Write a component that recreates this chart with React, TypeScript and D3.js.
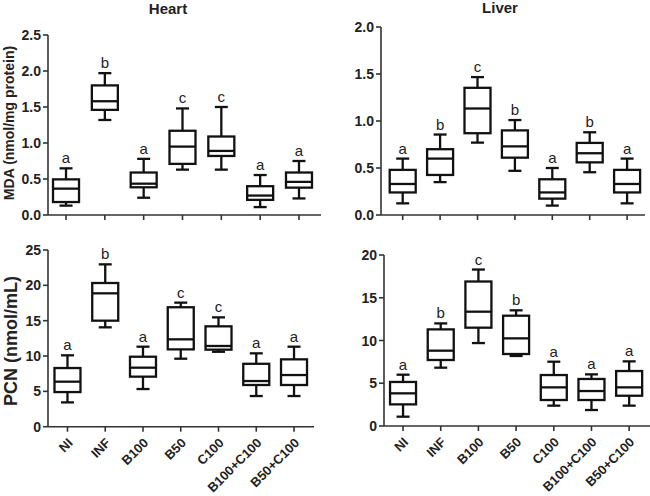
import React from "react";
import * as d3 from "d3";

const categories = ["NI", "INF", "B100", "B50", "C100", "B100+C100", "B50+C100"];

const heartMdaMin = [0.13, 1.32, 0.24, 0.63, 0.63, 0.11, 0.23];
const heartMdaQ1 = [0.18, 1.46, 0.385, 0.71, 0.82, 0.21, 0.38];
const heartMdaMedian = [0.366, 1.58, 0.435, 0.95, 0.89, 0.27, 0.46];
const heartMdaQ3 = [0.495, 1.8, 0.59, 1.17, 1.09, 0.4, 0.59];
const heartMdaMax = [0.648, 1.97, 0.78, 1.48, 1.5, 0.555, 0.75];
const heartMdaLetters = ["a", "b", "a", "c", "c", "a", "a"];

const liverMdaMin = [0.124, 0.35, 0.77, 0.47, 0.1, 0.455, 0.124];
const liverMdaQ1 = [0.24, 0.426, 0.87, 0.61, 0.174, 0.56, 0.24];
const liverMdaMedian = [0.33, 0.6, 1.133, 0.73, 0.24, 0.657, 0.33];
const liverMdaQ3 = [0.48, 0.7, 1.353, 0.9, 0.38, 0.767, 0.48];
const liverMdaMax = [0.6, 0.856, 1.467, 1.01, 0.5, 0.88, 0.6];
const liverMdaLetters = ["a", "b", "c", "b", "a", "b", "a"];

const heartPcnMin = [3.44, 14.06, 5.33, 9.62, 10.6, 4.34, 4.34];
const heartPcnQ1 = [4.9, 15.0, 7.08, 10.94, 10.9, 5.9, 5.9];
const heartPcnMedian = [6.37, 18.87, 8.35, 12.36, 11.42, 6.46, 7.31];
const heartPcnQ3 = [8.3, 20.33, 9.9, 16.9, 14.2, 8.9, 9.53];
const heartPcnMax = [10.1, 22.97, 11.32, 17.55, 15.47, 10.38, 11.32];
const heartPcnLetters = ["a", "b", "a", "c", "c", "a", "a"];

const liverPcnMin = [1.09, 6.82, 9.7, 8.19, 2.38, 1.87, 2.38];
const liverPcnQ1 = [2.53, 7.72, 11.5, 8.42, 3.04, 3.04, 3.54];
const liverPcnMedian = [3.82, 8.81, 13.37, 10.25, 4.52, 4.09, 4.52];
const liverPcnQ3 = [5.15, 11.3, 16.9, 12.9, 5.96, 5.5, 6.43];
const liverPcnMax = [6.0, 12.0, 18.3, 13.53, 7.52, 6.04, 7.56];
const liverPcnLetters = ["a", "b", "c", "b", "a", "a", "a"];

const mdaTicks = [0, 0.5, 1.0, 1.5, 2.0, 2.5];
const mdaLiverTicks = [0, 0.5, 1.0, 1.5, 2.0];
const pcnHeartTicks = [0, 5, 10, 15, 20, 25];
const pcnLiverTicks = [0, 5, 10, 15, 20];

const FONT = "'Liberation Sans', Arial, Helvetica, sans-serif";

type PanelProps = {
  mins: number[];
  q1s: number[];
  medians: number[];
  q3s: number[];
  maxs: number[];
  letters: string[];
  ticks: number[];
  fmt: string;
  yPix: [number, number];
  xBand: [number, number];
  axisX: number;
  axisEnd: number;
  showLabels: boolean;
  tickFont: number;
};

function Panel(p: PanelProps) {
  const y = d3.scaleLinear().domain([0, p.ticks[p.ticks.length - 1]]).range(p.yPix);
  const x = d3.scaleBand().domain(categories).range(p.xBand).padding(0);
  const f = d3.format(p.fmt);
  const bw = 26;
  const cap = 13;
  const y0 = y(0);
  const yTop = y(p.ticks[p.ticks.length - 1]);
  return (
    <g>
      <line x1={p.axisX} x2={p.axisX} y1={yTop} y2={y0} stroke="#333" strokeWidth={1.6} />
      {p.ticks.map((t) => (
        <g key={t}>
          <line x1={p.axisX - 5} x2={p.axisX} y1={y(t)} y2={y(t)} stroke="#333" strokeWidth={1.6} />
          <text
            x={p.axisX - 7}
            y={y(t)}
            dy="0.36em"
            textAnchor="end"
            fontFamily={FONT}
            fontWeight="bold"
            fontSize={p.tickFont}
            fill="#222"
          >
            {f(t)}
          </text>
        </g>
      ))}
      <line x1={p.axisX} x2={p.axisEnd} y1={y0} y2={y0} stroke="#333" strokeWidth={1.6} />
      {categories.map((c) => {
        const cx = (x(c) as number) + x.bandwidth() / 2;
        return (
          <g key={c}>
            <line x1={cx} x2={cx} y1={y0} y2={y0 + 5} stroke="#333" strokeWidth={1.6} />
            {p.showLabels && (
              <text
                transform={`translate(${cx + 6},${y0 + 17}) rotate(-45)`}
                textAnchor="end"
                fontFamily={FONT}
                fontWeight="bold"
                fontSize={13}
                fill="#222"
              >
                {c}
              </text>
            )}
          </g>
        );
      })}
      {categories.map((c, i) => {
        const cx = (x(c) as number) + x.bandwidth() / 2;
        return (
          <g key={"b" + c} stroke="#111" strokeWidth={2.3} fill="none">
            <line x1={cx} x2={cx} y1={y(p.maxs[i])} y2={y(p.q3s[i])} />
            <line x1={cx} x2={cx} y1={y(p.q1s[i])} y2={y(p.mins[i])} />
            <line x1={cx - cap / 2} x2={cx + cap / 2} y1={y(p.maxs[i])} y2={y(p.maxs[i])} />
            <line x1={cx - cap / 2} x2={cx + cap / 2} y1={y(p.mins[i])} y2={y(p.mins[i])} />
            <rect
              x={cx - bw / 2}
              y={y(p.q3s[i])}
              width={bw}
              height={y(p.q1s[i]) - y(p.q3s[i])}
              fill="#fff"
            />
            <line x1={cx - bw / 2} x2={cx + bw / 2} y1={y(p.medians[i])} y2={y(p.medians[i])} />
            <text
              x={cx}
              y={y(p.maxs[i]) - 5}
              textAnchor="middle"
              fontFamily={FONT}
              fontSize={15}
              stroke="none"
              fill="#222"
            >
              {p.letters[i]}
            </text>
          </g>
        );
      })}
    </g>
  );
}

export default function App() {
  return (
    <svg
      width={650}
      height={496}
      style={{ position: "absolute", left: 0, top: 0, background: "#fff" }}
    >
      <rect x={0} y={0} width={650} height={496} fill="#fff" />
      <text x={168} y={13.5} textAnchor="middle" fontFamily={FONT} fontWeight="bold" fontSize={15} fill="#222">
        Heart
      </text>
      <text x={500} y={12.5} textAnchor="middle" fontFamily={FONT} fontWeight="bold" fontSize={15} fill="#222">
        Liver
      </text>
      <text
        transform="translate(14,123) rotate(-90)"
        textAnchor="middle"
        fontFamily={FONT}
        fontWeight="bold"
        fontSize={14}
        fill="#222"
      >
        MDA (nmol/mg protein)
      </text>
      <text
        transform="translate(17,341) rotate(-90)"
        textAnchor="middle"
        fontFamily={FONT}
        fontWeight="bold"
        fontSize={18}
        fill="#222"
      >
        PCN (nmol/mL)
      </text>
      <Panel
        mins={heartMdaMin}
        q1s={heartMdaQ1}
        medians={heartMdaMedian}
        q3s={heartMdaQ3}
        maxs={heartMdaMax}
        letters={heartMdaLetters}
        ticks={mdaTicks}
        fmt=".1f"
        yPix={[215, 35]}
        xBand={[46.6, 318.4]}
        axisX={48}
        axisEnd={321}
        showLabels={false}
        tickFont={14}
      />
      <Panel
        mins={liverMdaMin}
        q1s={liverMdaQ1}
        medians={liverMdaMedian}
        q3s={liverMdaQ3}
        maxs={liverMdaMax}
        letters={liverMdaLetters}
        ticks={mdaLiverTicks}
        fmt=".1f"
        yPix={[215, 27]}
        xBand={[384, 645.8]}
        axisX={381}
        axisEnd={645}
        showLabels={false}
        tickFont={14}
      />
      <Panel
        mins={heartPcnMin}
        q1s={heartPcnQ1}
        medians={heartPcnMedian}
        q3s={heartPcnQ3}
        maxs={heartPcnMax}
        letters={heartPcnLetters}
        ticks={pcnHeartTicks}
        fmt="d"
        yPix={[426.7, 250]}
        xBand={[48.6, 312.9]}
        axisX={48}
        axisEnd={314}
        showLabels={true}
        tickFont={14}
      />
      <Panel
        mins={liverPcnMin}
        q1s={liverPcnQ1}
        medians={liverPcnMedian}
        q3s={liverPcnQ3}
        maxs={liverPcnMax}
        letters={liverPcnLetters}
        ticks={pcnLiverTicks}
        fmt="d"
        yPix={[426, 255]}
        xBand={[384.2, 648]}
        axisX={384}
        axisEnd={650}
        showLabels={true}
        tickFont={14}
      />
    </svg>
  );
}
